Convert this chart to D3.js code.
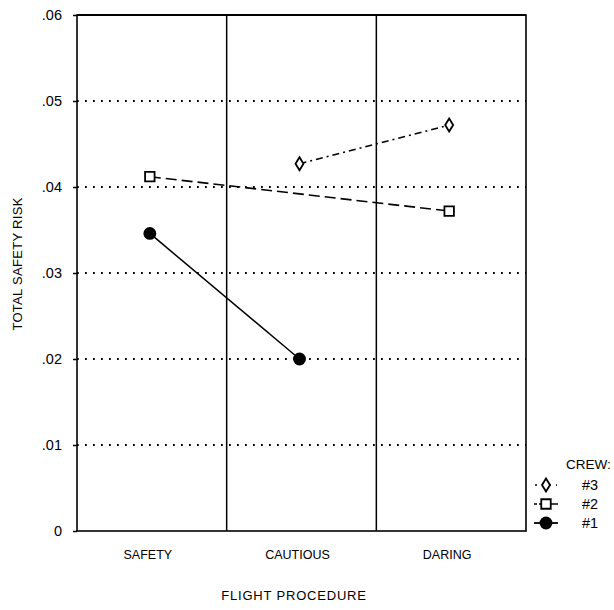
<!DOCTYPE html>
<html><head><meta charset="utf-8">
<script src="https://cdn.jsdelivr.net/npm/d3@7"></script>
<style>body{margin:0;background:#fff}text{font-family:"Liberation Sans",Arial,sans-serif;fill:#000}</style>
</head><body><svg id="c" width="614" height="610"></svg>
<script>
const categories = ["SAFETY", "CAUTIOUS", "DARING"];
const yTicks = [0, 0.01, 0.02, 0.03, 0.04, 0.05, 0.06];
const yTickLabels = ["0", ".01", ".02", ".03", ".04", ".05", ".06"];
const crew1 = [{c:"SAFETY", v:0.0346}, {c:"CAUTIOUS", v:0.0200}];
const crew2 = [{c:"SAFETY", v:0.0412}, {c:"DARING", v:0.0372}];
const crew3 = [{c:"CAUTIOUS", v:0.0427}, {c:"DARING", v:0.0472}];
const legendLabels = ["#3", "#2", "#1"];

const svg = d3.select("#c");
const L = 77, R = 526, T = 15, B = 531;
const x = d3.scaleBand().domain(categories).range([L, R]);
const y = d3.scaleLinear().domain([0, 0.06]).range([B, T]);
const cx = c => x(c) + x.bandwidth()/2 - 2;

// dotted grid
svg.append("g").selectAll("line").data(yTicks.filter(t => t > 0 && t < 0.06)).join("line")
  .attr("x1", L).attr("x2", R).attr("y1", d => y(d)).attr("y2", d => y(d))
  .attr("stroke", "#000").attr("stroke-width", 1.8).attr("stroke-dasharray", "1.8,6.2");

// vertical category separators
svg.append("g").selectAll("line").data(categories.slice(1)).join("line")
  .attr("x1", d => x(d)).attr("x2", d => x(d)).attr("y1", T).attr("y2", B)
  .attr("stroke", "#000").attr("stroke-width", 1.5);

// frame
svg.append("rect").attr("x", L).attr("y", T).attr("width", R - L).attr("height", B - T)
  .attr("fill", "none").attr("stroke", "#000").attr("stroke-width", 1.6);
svg.append("line").attr("x1", L).attr("x2", R).attr("y1", T).attr("y2", T).attr("stroke", "#000").attr("stroke-width", 2.2);

// y axis
const yAxis = d3.axisLeft(y).tickValues(yTicks).tickFormat((d, i) => yTickLabels[i]).tickSize(4).tickPadding(11);
const ga = svg.append("g").attr("transform", `translate(${L},0)`).call(yAxis);
ga.select(".domain").remove();
ga.selectAll("text").attr("font-size", 14.5).attr("font-family", '"Liberation Sans",Arial,sans-serif');
ga.selectAll("line").attr("stroke-width", 1.5);

// x labels
svg.append("g").selectAll("text").data(categories).join("text")
  .attr("x", d => cx(d) - 2).attr("y", 559).attr("text-anchor", "middle")
  .attr("font-size", 12.5).text(d => d);

svg.append("text").attr("x", 294).attr("y", 600).attr("text-anchor", "middle")
  .attr("font-size", 13).attr("letter-spacing", 0.8).text("FLIGHT PROCEDURE");
svg.append("text").attr("transform", "translate(22,264) rotate(-90)").attr("text-anchor", "middle")
  .attr("font-size", 13).attr("letter-spacing", 0.3).text("TOTAL SAFETY RISK");

const line = d3.line().x(d => cx(d.c)).y(d => y(d.v));
svg.append("path").datum(crew1).attr("d", line).attr("fill", "none").attr("stroke", "#000").attr("stroke-width", 1.5);
svg.append("path").datum(crew2).attr("d", line).attr("fill", "none").attr("stroke", "#000").attr("stroke-width", 1.6).attr("stroke-dasharray", "11,5");
svg.append("path").datum(crew3).attr("d", line).attr("fill", "none").attr("stroke", "#000").attr("stroke-width", 1.6).attr("stroke-dasharray", "7,4,2,4");

const circ = d3.symbol().type(d3.symbolCircle).size(130);
const sq = d3.symbol().type(d3.symbolSquare).size(90);
const diamond = "M0,-6.5L4,0L0,6.5L-4,0Z";

svg.append("g").selectAll("path").data(crew1).join("path")
  .attr("transform", d => `translate(${cx(d.c)},${y(d.v)})`).attr("d", circ).attr("fill", "#000");
svg.append("g").selectAll("path").data(crew2).join("path")
  .attr("transform", d => `translate(${cx(d.c)},${y(d.v)})`).attr("d", sq).attr("fill", "#fff").attr("stroke", "#000").attr("stroke-width", 1.8);
svg.append("g").selectAll("path").data(crew3).join("path")
  .attr("transform", d => `translate(${cx(d.c)},${y(d.v)})`).attr("d", diamond).attr("fill", "#fff").attr("stroke", "#000").attr("stroke-width", 1.8);

// legend
svg.append("text").attr("x", 566).attr("y", 469).attr("font-size", 13.5).text("CREW:");
const ly = [485, 504, 523];
const lx = 546;
legendLabels.forEach((lab, i) => {
  svg.append("text").attr("x", 582).attr("y", ly[i] + 5).attr("font-size", 14.5).text(lab);
});
svg.append("line").attr("x1", lx - 11).attr("x2", lx + 11).attr("y1", ly[0]).attr("y2", ly[0]).attr("stroke", "#000").attr("stroke-width", 1.5).attr("stroke-dasharray", "2,5");
svg.append("path").attr("transform", `translate(${lx},${ly[0]})`).attr("d", diamond).attr("fill", "#fff").attr("stroke", "#000").attr("stroke-width", 1.8);
svg.append("line").attr("x1", lx - 12).attr("x2", lx + 12).attr("y1", ly[1]).attr("y2", ly[1]).attr("stroke", "#000").attr("stroke-width", 1.5).attr("stroke-dasharray", "3,2,19");
svg.append("path").attr("transform", `translate(${lx},${ly[1]})`).attr("d", sq).attr("fill", "#fff").attr("stroke", "#000").attr("stroke-width", 1.8);
svg.append("line").attr("x1", lx - 12).attr("x2", lx + 12).attr("y1", ly[2]).attr("y2", ly[2]).attr("stroke", "#000").attr("stroke-width", 1.8);
svg.append("path").attr("transform", `translate(${lx},${ly[2]})`).attr("d", circ).attr("fill", "#000");
</script></body></html>
